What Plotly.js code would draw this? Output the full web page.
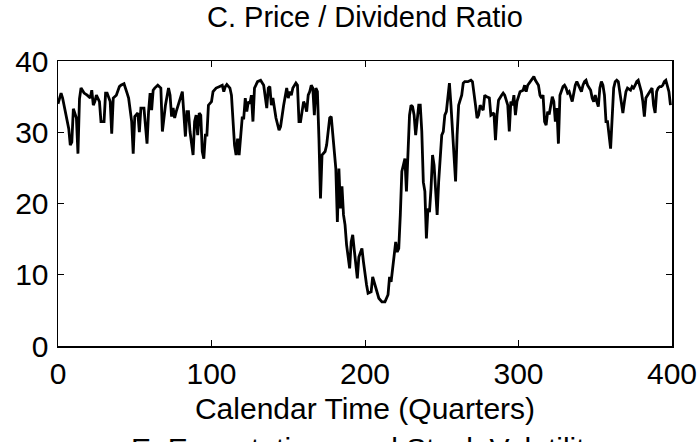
<!DOCTYPE html>
<html>
<head>
<meta charset="utf-8">
<script src="https://cdn.plot.ly/plotly-3.0.1.min.js"></script>
<style>
  html, body { margin: 0; padding: 0; background: #fff; }
  #chart { width: 698px; height: 442px; }
</style>
</head>
<body>
<div id="chart"></div>
<script>
// Quarter index (calendar time) and simulated price/dividend ratio
const quarters = [
  0,2,3,5,7,8,9,10,12,13,14,15,17,19,21,22,23,24,25,27,28,30,31,32,34,35,36,38,40,41,43,45,46,48,49,
  50,52,53,54,56,58,59,60,61,62,63,65,67,68,70,72,73,74,75,76,77,79,81,83,84,85,86,88,89,90,91,92,93,94,95,96,97,98,
  100,101,103,105,107,108,109,110,112,113,114,115,116,117,118,120,121,122,123,124,125,126,127,128,130,132,134,136,137,138,139,
  140,141,142,144,145,147,149,150,151,152,153,155,156,157,158,160,161,162,163,164,165,166,167,168,169,170,171,172,174,175,176,177,178,179,
  180,181,182,183,184,185,186,187,188,190,191,192,193,194,195,196,197,198,199,200,201,202,204,205,206,207,209,211,213,215,216,217,218,
  220,221,222,223,224,225,226,227,228,229,230,231,232,233,235,236,237,238,239,240,241,242,243,244,245,246,247,248,250,251,252,253,254,255,
  256,257,258,259,260,261,262,263,264,265,267,269,270,271,272,273,274,275,277,278,279,281,282,284,285,286,287,289,290,291,293,294,295,296,297,298,299,
  301,303,304,305,306,308,310,311,313,314,315,316,317,318,319,320,321,322,323,324,325,326,327,328,329,330,331,332,333,335,336,337,338,339,
  340,341,342,343,344,345,347,348,349,350,351,352,353,354,355,356,357,358,360,361,362,363,364,365,366,367,368,369,370,371,373,374,375,376,377,378,379,
  380,381,382,383,384,386,387,388,389,390,391,392,393,394,395,396,397,398,399,400
];
const pdRatio = [
  34.0,35.5,34.8,32.5,30.5,28.2,28.6,33.3,32.0,27.0,34.7,36.2,35.5,35.2,34.8,35.9,33.8,34.3,35.2,34.3,31.5,31.5,35.5,35.5,34.3,29.8,34.8,35.2,36.4,36.6,36.8,35.5,34.8,31.5,27.0,
  32.2,32.7,30.0,33.4,33.4,28.4,32.9,35.5,33.1,35.9,36.2,36.6,36.2,30.1,33.8,36.2,35.2,32.2,33.4,32.0,32.9,34.3,35.7,29.4,32.9,32.9,30.1,26.8,31.5,32.4,29.6,32.7,32.4,27.3,26.3,29.6,29.6,33.8,
  34.3,35.7,36.2,36.4,36.6,35.7,36.4,36.7,36.2,35.2,31.5,28.2,26.8,29.1,26.8,32.0,32.0,34.8,32.9,34.3,34.0,35.2,31.5,36.2,37.1,37.3,36.6,33.4,36.2,36.4,33.8,
  34.8,33.4,32.0,30.3,30.8,33.8,36.2,34.8,35.7,35.2,36.2,36.9,36.6,31.5,31.5,34.3,33.8,32.9,35.2,35.7,36.6,36.2,32.4,36.2,35.7,29.1,20.7,26.8,27.3,28.2,30.1,32.0,32.2,29.6,
  26.8,24.9,17.4,24.9,19.3,22.4,18.4,17.0,14.2,10.9,14.6,15.6,13.5,11.0,9.5,12.5,13.2,13.7,11.8,10.0,8.6,7.4,7.6,9.7,9.0,8.1,6.7,6.2,6.2,7.2,9.7,9.0,10.9,
  14.6,13.2,13.7,18.4,24.5,25.4,26.3,21.7,26.8,32.4,33.8,33.6,32.4,29.6,33.8,33.8,30.1,23.0,21.7,15.1,19.3,18.8,22.1,26.8,25.4,22.1,18.4,23.1,29.6,30.1,32.4,32.9,34.8,36.9,
  33.8,29.6,25.5,23.1,29.6,33.8,34.5,35.2,36.9,37.1,37.1,37.3,37.1,35.7,33.8,32.0,32.4,33.8,33.1,35.2,35.0,34.8,32.4,32.7,28.9,32.4,34.5,35.2,35.5,35.2,33.8,30.1,34.3,33.8,35.2,32.4,34.3,
  35.7,35.9,36.6,35.7,36.6,37.3,37.8,37.3,36.6,35.2,34.8,35.2,31.5,31.0,32.9,32.5,33.8,35.0,34.3,31.5,33.4,28.4,35.2,35.9,36.4,36.6,36.2,35.5,35.7,34.3,35.7,36.6,37.1,
  36.6,36.2,35.7,36.6,37.1,37.3,36.6,35.9,34.8,34.3,35.2,34.3,33.6,36.2,37.1,36.6,35.2,31.5,31.5,27.7,32.9,36.2,37.1,37.3,37.1,35.7,33.8,32.7,34.3,35.7,36.2,35.9,36.4,36.2,36.6,37.1,37.3,
  36.4,35.7,34.3,32.2,34.8,35.2,35.9,36.2,33.8,32.7,35.7,36.2,36.4,36.4,36.6,37.1,37.3,36.5,35.7,33.8
];
const xTicks = [0, 100, 200, 300, 400];
const yTicks = [0, 10, 20, 30, 40];
const chartTitle = 'C. Price / Dividend Ratio';
const xLabel = 'Calendar Time (Quarters)';
const nextPanelTitle = 'E. Expectations and Stock Volatility';

const FONT = 'Liberation Sans, Arial, Helvetica, sans-serif';
const FS = 30;

const trace = {
  x: quarters,
  y: pdRatio,
  type: 'scatter',
  mode: 'lines',
  line: { color: '#000000', width: 2.8 },
  hoverinfo: 'skip'
};

const axisCommon = {
  showline: true,
  linecolor: '#000000',
  linewidth: 1.5,
  mirror: 'allticks',
  ticks: 'inside',
  ticklen: 6,
  tickwidth: 1,
  tickcolor: '#000000',
  showgrid: false,
  zeroline: false,
  tickfont: { family: FONT, size: FS, color: '#000000' }
};

const layout = {
  width: 698,
  height: 442,
  margin: { l: 58, r: 26, t: 61, b: 96 },
  paper_bgcolor: '#ffffff',
  plot_bgcolor: '#ffffff',
  showlegend: false,
  title: {
    text: chartTitle,
    font: { family: FONT, size: 29, color: '#000000' },
    x: 0.5, xref: 'paper',
    y: 0.961, yref: 'container', yanchor: 'middle'
  },
  xaxis: Object.assign({}, axisCommon, {
    range: [0, 400],
    tickvals: xTicks,
    ticktext: xTicks.map(String),
    title: { text: xLabel, font: { family: FONT, size: FS, color: '#000000' }, standoff: 9 }
  }),
  yaxis: Object.assign({}, axisCommon, {
    range: [0, 40],
    tickvals: yTicks,
    ticktext: yTicks.map(String),
    ticklabelstandoff: 2
  }),
  annotations: [{
    text: nextPanelTitle,
    xref: 'paper', yref: 'paper',
    x: 0.5, y: -0.296, xanchor: 'center', yanchor: 'top',
    showarrow: false,
    font: { family: FONT, size: FS, color: '#000000' }
  }]
};

Plotly.newPlot('chart', [trace], layout, { staticPlot: true, displayModeBar: false });
</script>
</body>
</html>
